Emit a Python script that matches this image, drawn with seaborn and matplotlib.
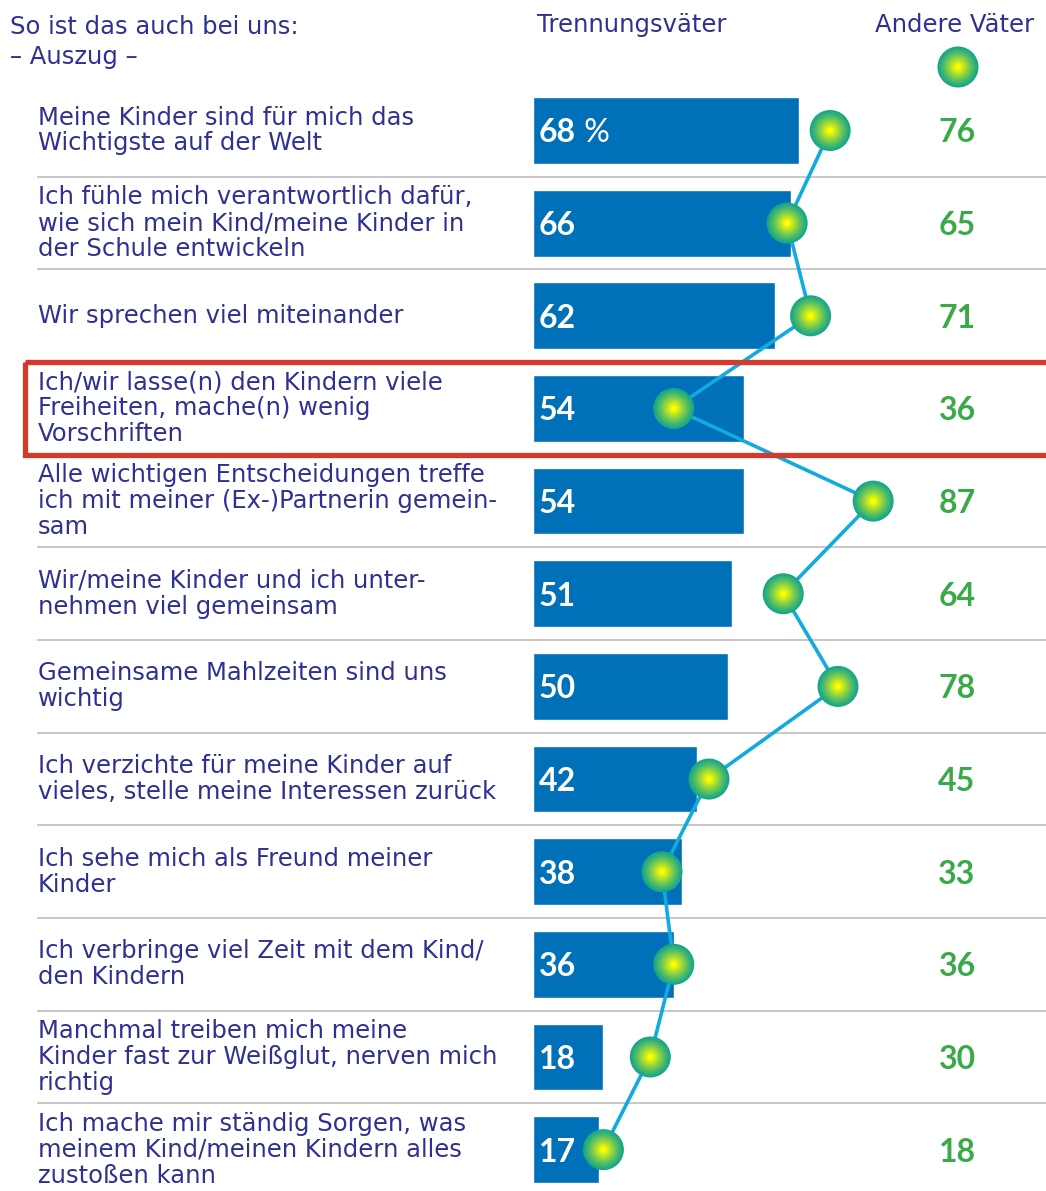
import numpy as np
import pandas as pd
import matplotlib
matplotlib.use("Agg")
import matplotlib.pyplot as plt
from matplotlib.patches import Rectangle
from matplotlib.colors import to_rgb
import seaborn as sns

# Statements (German survey items)
statements = [
    "Meine Kinder sind für mich das\nWichtigste auf der Welt",
    "Ich fühle mich verantwortlich dafür,\nwie sich mein Kind/meine Kinder in\nder Schule entwickeln",
    "Wir sprechen viel miteinander",
    "Ich/wir lasse(n) den Kindern viele\nFreiheiten, mache(n) wenig\nVorschriften",
    "Alle wichtigen Entscheidungen treffe\nich mit meiner (Ex-)Partnerin gemein-\nsam",
    "Wir/meine Kinder und ich unter-\nnehmen viel gemeinsam",
    "Gemeinsame Mahlzeiten sind uns\nwichtig",
    "Ich verzichte für meine Kinder auf\nvieles, stelle meine Interessen zurück",
    "Ich sehe mich als Freund meiner\nKinder",
    "Ich verbringe viel Zeit mit dem Kind/\nden Kindern",
    "Manchmal treiben mich meine\nKinder fast zur Weißglut, nerven mich\nrichtig",
    "Ich mache mir ständig Sorgen, was\nmeinem Kind/meinen Kindern alles\nzustoßen kann",
]
trennungsvaeter = [68, 66, 62, 54, 54, 51, 50, 42, 38, 36, 18, 17]
andere_vaeter = [76, 65, 71, 36, 87, 64, 78, 45, 33, 36, 30, 18]
highlight_row = 3

NAVY = "#2e3192"
BAR = "#0070b9"
LINE = "#12aadf"
GREEN_TXT = "#3aaa48"
RED = "#d33a2c"
SEP = "#c8c8c8"
DOT_EDGE = "#16a68a"
DOT_CENTER = "#ffff00"

sns.set_theme(style="white")
plt.rcParams["font.family"] = ["DejaVu Sans"]
LABEL_FONT = ["DejaVu Sans"]
NUM_FONT = ["Lato", "DejaVu Sans"]

W, H = 1046, 1191
fig = plt.figure(figsize=(W / 100, H / 100), dpi=100)
ax = fig.add_axes([0, 0, 1, 1])

df = pd.DataFrame({"item": statements, "value": trennungsvaeter})
sns.barplot(data=df, x="value", y="item", orient="h", color=BAR,
            saturation=1, width=0.72, ax=ax)

rows = np.arange(len(statements))

# pixel-to-data mapping: bars start at x=533 px, 3.91 px per percent
px_per_unit = 3.91
x0_px = 533
ax.set_xlim(-x0_px / px_per_unit, (W - x0_px) / px_per_unit)
row0_px, row_px = 130.5, 92.65
ax.set_ylim((H - row0_px) / row_px, -row0_px / row_px)
ax.set_axis_off()


def xd(px):
    return (px - x0_px) / px_per_unit


def yd(px):
    return (px - row0_px) / row_px


# row separators
for r in rows[:-1]:
    b = r + 0.5
    if b in (highlight_row - 0.5, highlight_row + 0.5):
        continue
    ax.plot([xd(37), xd(W + 5)], [b, b], color=SEP, lw=1.4, zorder=1,
            solid_capstyle="butt")

# connecting line for "Andere Väter"
line_df = pd.DataFrame({"x": andere_vaeter, "y": rows})
sns.lineplot(data=line_df, x="x", y="y", sort=False, estimator=None,
             color=LINE, lw=2.6, ax=ax, zorder=4)


# radial-gradient dots
def gradient_dots(xs, ys, diameter_px=41, n=30):
    edge = np.array(to_rgb(DOT_EDGE))
    center = np.array(to_rgb(DOT_CENTER))
    for k in range(n):
        frac = 1 - k / n  # radius fraction
        t = np.clip((1 - frac) / 0.9, 0, 1) ** 1.2
        col = edge + (center - edge) * t
        d_pt = diameter_px * frac * 72 / 100
        ax.scatter(xs, ys, s=d_pt ** 2, color=col, edgecolors="none",
                   zorder=5 + k * 0.01, clip_on=False)


gradient_dots(andere_vaeter, rows)

# statement labels
for r, s in zip(rows, statements):
    ax.text(xd(38), r, s, color=NAVY, fontsize=17.5, family=LABEL_FONT,
            va="center", ha="left", linespacing=1.1, zorder=6)

# value labels inside bars and on the right
for r, v, a in zip(rows, trennungsvaeter, andere_vaeter):
    t = ax.text(xd(539), r, f"{v}", color="white", fontsize=23,
                family=NUM_FONT, fontweight="bold", va="center_baseline",
                ha="left", zorder=6)
    if r == 0:
        ax.annotate(" %", xy=(1, 0), xycoords=t, va="bottom", ha="left",
                    color="white", fontsize=23, family=NUM_FONT, zorder=6)
    ax.text(xd(957), r, f"{a}", color=GREEN_TXT, fontsize=23,
            family=NUM_FONT, fontweight="bold", va="center_baseline",
            ha="center", zorder=6)

# highlight frame
ax.add_patch(Rectangle((xd(25), highlight_row - 0.5),
                       xd(W + 20) - xd(25), 1.0, fill=False,
                       edgecolor=RED, lw=3.8, zorder=7, clip_on=False))

# headers
fig.text(10 / W, 1 - 27 / H, "So ist das auch bei uns:", color=NAVY,
         fontsize=17.5, family=LABEL_FONT, va="center", ha="left")
fig.text(10 / W, 1 - 57 / H, "– Auszug –", color=NAVY, fontsize=17.5,
         family=LABEL_FONT, va="center", ha="left")
fig.text(632 / W, 1 - 25 / H, "Trennungsväter", color=NAVY, fontsize=17.5,
         family=LABEL_FONT, va="center", ha="center")
fig.text(955 / W, 1 - 25 / H, "Andere Väter", color=NAVY, fontsize=17.5,
         family=LABEL_FONT, va="center", ha="center")

# legend marker under "Andere Väter"
gradient_dots([xd(958)], [yd(67)])

fig.savefig("out.png", dpi=100)
